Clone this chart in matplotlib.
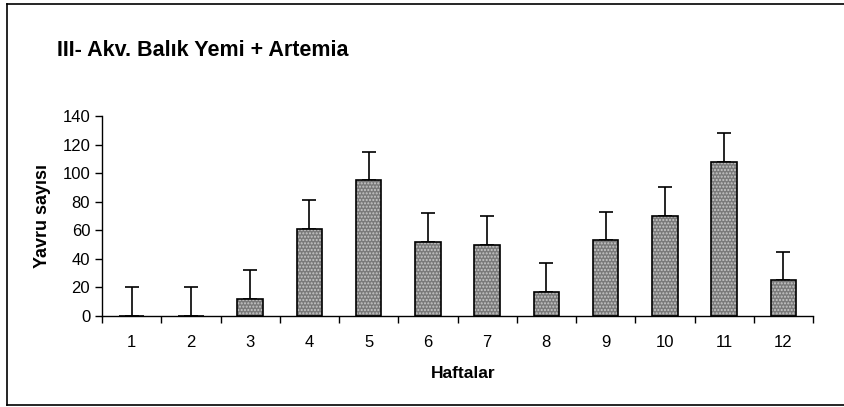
import matplotlib.pyplot as plt
import numpy as np

# Values
weeks = ['1', '2', '3', '4', '5', '6', '7', '8', '9', '10', '11', '12']
yavru = [0, 0, 12, 61, 95, 52, 50, 17, 53, 70, 108, 25]
hata = [20, 20, 20, 20, 20, 20, 20, 20, 20, 20, 20, 20]

plt.rcParams['font.family'] = ['Liberation Sans', 'DejaVu Sans']

fig = plt.figure(figsize=(8.44, 4.07), dpi=100)
ax = fig.add_axes([102 / 844, 1 - 316 / 407, 711 / 844, 200 / 407])

x = np.arange(len(weeks))

# Error bars (upper only), drawn behind the bars
ax.errorbar(x, yavru, yerr=[np.zeros(len(hata)), hata], fmt='none',
            ecolor='black', elinewidth=1.2, capsize=5, capthick=1.2, zorder=1)

# Gray bars with a light dotted texture, then black outline on top
ax.bar(x, yavru, width=0.43, color='#7a7a7a', hatch='.....',
       edgecolor='#c8c8c8', linewidth=0, zorder=2)
ax.bar(x, yavru, width=0.43, fill=False, edgecolor='black',
       linewidth=1.2, zorder=3)

ax.set_xlim(-0.5, len(weeks) - 0.5)
ax.set_ylim(0, 140)
ax.set_yticks(range(0, 141, 20))
ax.set_xticks(x)
ax.set_xticklabels(weeks)
ax.set_xticks(np.arange(-0.5, len(weeks), 1), minor=True)
ax.tick_params(axis='x', which='major', length=0, labelsize=12, pad=14)
ax.tick_params(axis='x', which='minor', length=5, width=1, direction='out')
ax.tick_params(axis='y', length=5, width=1, labelsize=12)

ax.spines['top'].set_visible(False)
ax.spines['right'].set_visible(False)
ax.spines['left'].set_linewidth(1)
ax.spines['bottom'].set_linewidth(1)

ax.set_ylabel('Yavru sayısı', fontsize=13, fontweight='bold', labelpad=8)
ax.set_xlabel('Haftalar', fontsize=12.5, fontweight='bold')
ax.xaxis.set_label_coords(0.508, -0.25)

fig.text(57 / 844, 1 - 50 / 407, 'III- Akv. Balık Yemi + Artemia',
         fontsize=15.5, fontweight='bold', va='center', ha='left')

# Outer frame (right edge cut off in the reference)
fig.add_artist(plt.Line2D([7 / 844, 7 / 844], [1 - 405 / 407, 1 - 4 / 407],
                          color='black', linewidth=1.2, transform=fig.transFigure))
fig.add_artist(plt.Line2D([7 / 844, 1], [1 - 4 / 407, 1 - 4 / 407],
                          color='black', linewidth=1.2, transform=fig.transFigure))
fig.add_artist(plt.Line2D([7 / 844, 1], [1 - 405 / 407, 1 - 405 / 407],
                          color='black', linewidth=1.2, transform=fig.transFigure))

fig.savefig('out.png', dpi=100)
